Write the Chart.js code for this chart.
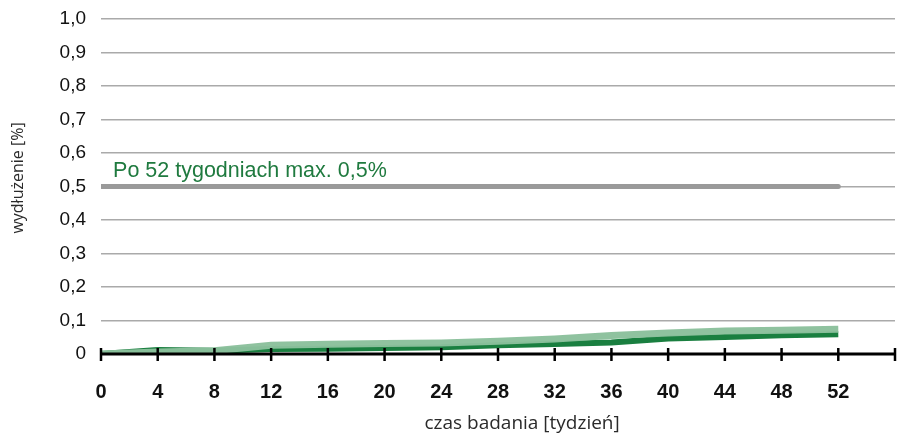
<!DOCTYPE html>
<html>
<head>
<meta charset="utf-8">
<script src="https://cdn.jsdelivr.net/npm/chart.js@4.4.1/dist/chart.umd.min.js"></script>
<style>
  html, body { margin: 0; padding: 0; background: #fff; }
  #wrap { width: 898px; height: 436px; position: relative; }
</style>
</head>
<body>
<div id="wrap"><canvas id="c"></canvas></div>
<script>
// ---- data ----
const weeks = [0, 4, 8, 12, 16, 20, 24, 28, 32, 36, 40, 44, 48, 52];
const seriesDark  = [0, 0.012, 0.010, 0.015, 0.016, 0.018, 0.020, 0.026, 0.030, 0.034, 0.046, 0.051, 0.056, 0.059];
const seriesLight = [0, 0.006, 0.010, 0.026, 0.029, 0.031, 0.033, 0.038, 0.045, 0.055, 0.063, 0.069, 0.071, 0.074];
const limitWeeks = [0, 52];
const limitValue = 0.5;
const limitLabel = 'Po 52 tygodniach max. 0,5%';
const xTitle = 'czas badania [tydzień]';
const yTitle = 'wydłużenie [%]';
const xTickMax = 52;

const toPts = (xs, ys) => xs.map((x, i) => ({ x: x, y: Array.isArray(ys) ? ys[i] : ys }));

const decor = {
  id: 'decor',
  afterDatasetsDraw(chart) {
    const ctx = chart.ctx, xs = chart.scales.x, ys = chart.scales.y;
    const y0 = ys.getPixelForValue(0);
    ctx.save();
    // x axis line
    ctx.strokeStyle = '#000';
    ctx.lineWidth = 3;
    ctx.beginPath();
    ctx.moveTo(xs.left, y0);
    ctx.lineTo(xs.right, y0);
    ctx.stroke();
    // tick marks crossing the axis
    ctx.lineWidth = 2.5;
    xs.ticks.forEach(t => {
      const px = xs.getPixelForValue(t.value);
      ctx.beginPath();
      ctx.moveTo(px, y0 - 6);
      ctx.lineTo(px, y0 + 7);
      ctx.stroke();
    });
    // annotation text
    ctx.fillStyle = '#1f7a3f';
    ctx.font = '21.5px "Liberation Sans", Arial, sans-serif';
    ctx.textAlign = 'left';
    ctx.textBaseline = 'alphabetic';
    ctx.fillText(limitLabel, xs.getPixelForValue(0.85), ys.getPixelForValue(limitValue) - 10);
    // axis titles
    ctx.fillStyle = '#2a2a2a';
    ctx.font = '19px "Open Sans", sans-serif';
    ctx.textAlign = 'center';
    ctx.fillText(xTitle, xs.getPixelForValue(29.7), 429);
    ctx.save();
    ctx.translate(23, 178);
    ctx.rotate(-Math.PI / 2);
    ctx.font = '16px "Open Sans", sans-serif';
    ctx.fillText(yTitle, 0, 0);
    ctx.restore();
    ctx.restore();
  }
};

new Chart(document.getElementById('c'), {
  type: 'line',
  data: {
    datasets: [
      {
        label: 'limit',
        data: toPts(limitWeeks, limitValue),
        borderColor: '#9a9a9a',
        borderWidth: 5,
        borderCapStyle: 'round',
        pointRadius: 0,
        order: 2
      },
      {
        label: 'seria 2',
        data: toPts(weeks, seriesDark),
        borderColor: '#1a7f40',
        borderWidth: 6,
        borderCapStyle: 'butt',
        pointRadius: 0,
        tension: 0,
        order: 1
      },
      {
        label: 'seria 1',
        data: toPts(weeks, seriesLight),
        borderColor: 'rgba(139,192,156,0.97)',
        borderWidth: 7,
        borderCapStyle: 'butt',
        pointRadius: 0,
        tension: 0,
        order: 0
      }
    ]
  },
  options: {
    responsive: true,
    maintainAspectRatio: false,
    animation: false,
    layout: { padding: { top: 19, right: 3, left: 0, bottom: 0 } },
    plugins: { legend: { display: false }, tooltip: { enabled: false } },
    scales: {
      x: {
        type: 'linear',
        min: 0,
        max: 56,
        afterFit(s) { s.height = 82; s.paddingRight = 0; s.paddingLeft = 0; },
        grid: { display: false, drawTicks: false },
        border: { display: false },
        ticks: {
          stepSize: 4,
          padding: 26,
          color: '#111',
          font: { family: '"Liberation Sans", Arial, sans-serif', size: 20, weight: 'bold' },
          callback: v => (v <= xTickMax ? String(v) : '')
        }
      },
      y: {
        min: 0,
        max: 1,
        afterFit(s) { s.width = 101; s.paddingTop = 0; s.paddingBottom = 0; },
        grid: { color: '#aaaaaa', lineWidth: 1.5, drawTicks: false },
        border: { display: false },
        ticks: {
          stepSize: 0.1,
          padding: 15,
          color: '#111',
          font: { family: '"Liberation Sans", Arial, sans-serif', size: 19 },
          callback: v => (Math.abs(v) < 1e-9 ? '0' : v.toFixed(1).replace('.', ','))
        }
      }
    }
  },
  plugins: [decor]
});
</script>
</body>
</html>
